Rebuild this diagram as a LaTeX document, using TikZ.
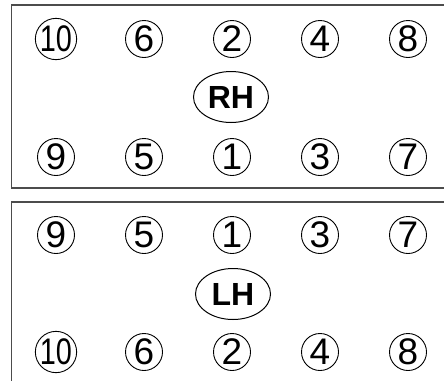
\documentclass[tikz,border=0pt]{standalone}
\usepackage{fontspec}
\setmainfont{Liberation Sans}
\usetikzlibrary{shapes.geometric}

\tikzset{
  bolt/.style={draw, circle, line width=0.9pt, inner sep=0pt, minimum size=37pt,
    font=\fontsize{37}{37}\selectfont},
  side/.style={draw, ellipse, line width=1pt, inner sep=0pt, minimum width=75pt,
    minimum height=51pt, font=\fontsize{32}{32}\selectfont\bfseries},
  frame/.style={draw=black!70, line width=1.2pt}
}

\begin{document}
\begin{tikzpicture}[x=1pt, y=-1pt]
    \useasboundingbox (0,0) rectangle (444,381);

    % --- RH ---
    \draw[frame] (444,5) -- (11.5,5) -- (11.5,188) -- (444,188);
    \foreach \px/\n in {56/10, 144/6, 232/2, 320/4, 408/8} {
      \node[bolt] (rt\n) at (\px,39) {\ifnum\n=10 \scalebox{0.78}[1]{10}\else\n\fi};
    }
    \foreach \px/\n in {56/9, 144/5, 232/1, 320/3, 408/7} {
      \node[bolt] (rb\n) at (\px,157) {\n};
    }
    \node[side] (rh) at (231,97) {RH};

    % --- LH ---
    \draw[frame] (444,202) -- (11.5,202) -- (11.5,381);
    \foreach \px/\n in {56/9, 144/5, 232/1, 320/3, 408/7} {
      \node[bolt] (lt\n) at (\px,235) {\n};
    }
    \foreach \px/\n in {56/10, 144/6, 232/2, 320/4, 408/8} {
      \node[bolt] (lb\n) at (\px,352) {\ifnum\n=10 \scalebox{0.78}[1]{10}\else\n\fi};
    }
    \node[side] (lh) at (233,294) {LH};

\end{tikzpicture}
\end{document}
